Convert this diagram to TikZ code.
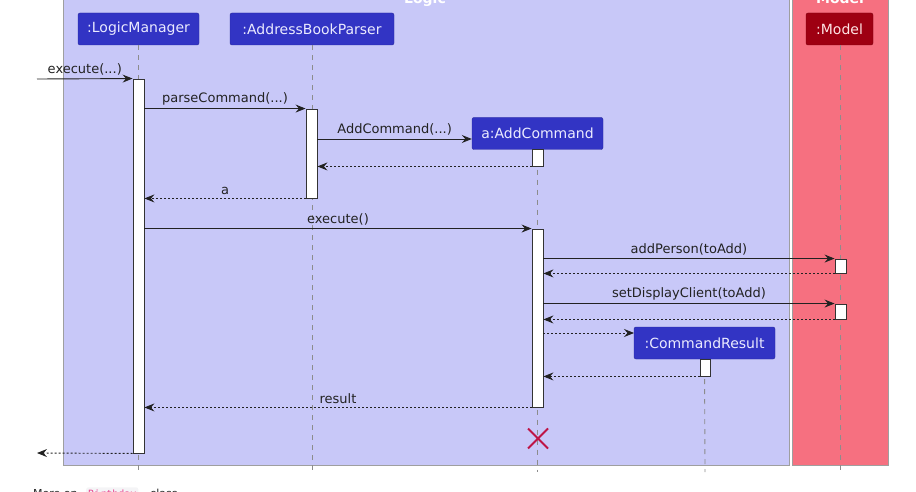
\documentclass[tikz,border=0pt]{standalone}
\usepackage{fontspec}
\setmainfont{DejaVu Sans}
\newfontfamily\codefont{DejaVu Sans Mono}
\usetikzlibrary{arrows.meta,calc}
\definecolor{logicbg}{RGB}{200,200,248}
\definecolor{modelbg}{RGB}{246,112,128}
\definecolor{partblue}{RGB}{50,52,196}
\definecolor{partred}{RGB}{158,0,18}
\definecolor{destroyc}{RGB}{190,20,70}
\definecolor{linec}{RGB}{34,34,34}
\definecolor{codepink}{RGB}{232,62,140}
\definecolor{codebg}{RGB}{244,244,246}
\begin{document}
\begin{tikzpicture}[x=1pt,y=-1pt,
  group/.style={draw=gray!75,line width=0.8pt},
  grouptitle/.style={anchor=base,text=white,font=\fontsize{14}{16}\selectfont\bfseries},
  part/.style={rounded corners=2pt,inner sep=0pt,minimum height=32pt,
    text=white!92!blue,font=\fontsize{14}{16}\selectfont,draw=partblue!80!black,line width=0.4pt,fill=partblue},
  partm/.style={part,fill=partred,draw=partred!80!black,text=white!90!red},
  lifeline/.style={draw=black!45,line width=0.9pt,dash pattern=on 5pt off 5pt},
  act/.style={draw=black!80,fill=white,line width=0.9pt,inner sep=0pt,minimum width=11pt},
  msg/.style={draw=linec,line width=0.9pt,-{Stealth[length=10pt,width=8pt,inset=3.5pt]}},
  ret/.style={msg,dash pattern=on 2pt off 2pt},
  lbl/.style={font=\fontsize{13}{15}\selectfont,text=linec,inner sep=1pt,above=2pt}
]
\useasboundingbox (0,0) rectangle (916,492);
% group boxes
\filldraw[group,fill=logicbg] (63,-20) rectangle (789,465);
\filldraw[group,fill=modelbg] (792,-20) rectangle (888,465);
\node[grouptitle] (tlogic) at (425,4) {Logic};
\node[grouptitle] (tmodel) at (840,4) {Model};

% participants
\node[part,minimum width=121pt] (lm) at (138.5,29) {:LogicManager};
\node[part,minimum width=164pt] (abp) at (312,29) {:AddressBookParser};
\node[partm,minimum width=67pt] (mdl) at (839.5,29) {:Model};
\node[part,minimum width=131pt] (ac) at (537.5,133.5) {a:AddCommand};
\node[part,minimum width=141pt] (cr) at (704.5,343) {:CommandResult};

% lifeline ends
\coordinate (lmend) at (138.5,472);
\coordinate (abpend) at (312,472);
\coordinate (acend) at (537.5,472);
\coordinate (crend) at (705,472);
\coordinate (mdlend) at (840.5,472);

\draw[lifeline] (lm.south) -- (lmend);
\draw[lifeline] (abp.south) -- (abpend);
\draw[lifeline] (ac.south) -- (acend);
\draw[lifeline] (cr.south) -- (crend);
\draw[lifeline] (mdl.south -| mdlend) -- (mdlend);

% activations
\node[act,minimum height=374pt] (lmA) at (138.5,266) {};
\node[act,minimum height=89pt] (abpA) at (311.5,153.5) {};
\node[act,minimum height=17pt] (acA1) at (537.5,157.5) {};
\node[act,minimum height=178pt] (acA2) at (537.5,318) {};
\node[act,minimum height=14pt] (mA1) at (840.5,266) {};
\node[act,minimum height=15pt] (mA2) at (840.5,311.5) {};
\node[act,minimum width=10pt,minimum height=17pt] (crA) at (705,367.5) {};

% free ends
\coordinate (in) at (37,79);
\coordinate (out) at (37,453);
\coordinate (crin) at (634,333);

% messages
\draw[msg] (in) -- node[lbl] {execute(...)} (lmA.north west);
\draw[msg] (lmA.east |- abpA.north) -- node[lbl] {parseCommand(...)} (abpA.north west);
\draw[msg] (abpA.east |- 0,139) -- node[lbl] {AddCommand(...)} (ac.west |- 0,139);
\draw[ret] (acA1.south west) -- (abpA.east |- acA1.south);
\draw[ret] (abpA.south west) -- node[lbl] {a} (lmA.east |- abpA.south);
\draw[msg] (lmA.east |- acA2.north) -- node[lbl] {execute()} (acA2.north west);
\draw[msg] (acA2.east |- mA1.north) -- node[lbl] {addPerson(toAdd)} (mA1.north west);
\draw[ret] (mA1.south west) -- (acA2.east |- mA1.south);
\draw[msg] (acA2.east |- mA2.north) -- node[lbl] {setDisplayClient(toAdd)} (mA2.north west);
\draw[ret] (mA2.south west) -- (acA2.east |- mA2.south);
\draw[ret] (acA2.east |- crin) -- (crin);
\draw[ret] (crA.south west) -- (acA2.east |- crA.south);
\draw[ret] (acA2.south west) -- node[lbl] {result} (lmA.east |- acA2.south);
\draw[ret] (lmA.south west) -- (out);

% destroy
\coordinate (x) at (538,438.5);
\draw[destroyc,line width=1.8pt] ($(x)+(-10,-10)$) -- ($(x)+(10,10)$)
  ($(x)+(-10,10)$) -- ($(x)+(10,-10)$);

% footnote (cut off at the bottom)
\node[anchor=base west,inner sep=0pt,font=\fontsize{11}{13}\selectfont,text=black!85] (fn1) at (33,497) {More on};
\node[anchor=base west,inner sep=2pt,rounded corners=2pt,fill=codebg,text=codepink,font=\codefont\fontsize{10}{12}\selectfont] (fn2) at (86,497) {Birthday};
\node[anchor=base west,inner sep=0pt,font=\fontsize{11}{13}\selectfont,text=black!85] (fn3) at (150,497) {class};
\end{tikzpicture}
\end{document}
